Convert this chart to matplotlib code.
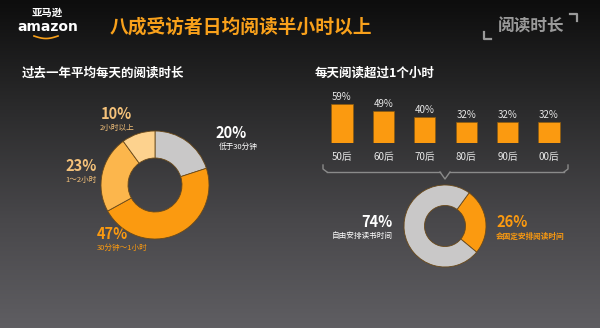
import numpy as np
import matplotlib
matplotlib.use("Agg")
import matplotlib.pyplot as plt
from matplotlib.colors import LinearSegmentedColormap

plt.rcParams['font.family'] = ['Noto Sans CJK SC', 'DejaVu Sans']

# data
left_labels = ['低于30分钟', '30分钟～1小时', '1～2小时', '2小时以上']
left_values = [20, 47, 23, 10]
bar_categories = ['50后', '60后', '70后', '80后', '90后', '00后']
bar_values = [59, 49, 40, 32, 32, 32]
right_labels = ['会固定安排阅读时间', '自由安排读书时间']
right_values = [26, 74]

ORANGE = '#fb9a10'
LIGHT = '#fcb64c'
PALE = '#fdd28e'
GRAY = '#c9c8c8'
TITLE = '#f9a11b'

W, H = 600, 328
fig = plt.figure(figsize=(6, 3.28), dpi=100)

# background, pixel coordinates
bg = fig.add_axes([0, 0, 1, 1])
bg.set_xlim(0, W)
bg.set_ylim(H, 0)
bg.axis('off')
cmap = LinearSegmentedColormap.from_list('bg', ['#0d0d0d', '#2b2b2c', '#48474a', '#5f5e62'])
grad = np.linspace(0, 1, 256).reshape(-1, 1)
bg.imshow(grad, cmap=cmap, extent=[0, W, H, 0], aspect='auto', zorder=0)

# logo
bg.text(47, 13, '亚马逊', color='white', fontsize=7.5, fontweight='bold', ha='center', va='center')
bg.text(48, 27, 'amazon', color='white', fontsize=10, fontweight='bold', ha='center', va='center',
        family=['DejaVu Sans'])
t = np.linspace(0, 1, 30)
bg.plot(34 + 24 * t, 36 + 2.5 * np.sin(np.pi * t), color=TITLE, lw=1.2, zorder=2)

# title
bg.text(110, 27, '八成受访者日均阅读半小时以上', color=TITLE, fontsize=13.5, fontweight='bold',
        ha='left', va='center')

# top right tag
bg.text(531, 27, '阅读时长', color='#9a9a9a', fontsize=12, fontweight='bold', ha='center', va='center')
bg.plot([570, 577, 577], [14, 14, 21], color='#9a9a9a', lw=1.6)
bg.plot([484, 484, 491], [32, 39, 39], color='#9a9a9a', lw=1.6)

# section titles
bg.text(22, 73, '过去一年平均每天的阅读时长', color='white', fontsize=9, fontweight='bold', ha='left', va='center')
bg.text(315, 73, '每天阅读超过1个小时', color='white', fontsize=9, fontweight='bold', ha='left', va='center')

# left donut
ax1 = fig.add_axes([101 / W, 1 - 239 / H, 108 / W, 108 / H])
wedges, _ = ax1.pie(left_values, colors=[GRAY, ORANGE, LIGHT, PALE], startangle=90, counterclock=False,
                    wedgeprops=dict(width=0.5, edgecolor='#6b4a1a', linewidth=0.6))
ax1.set_xlim(-1, 1)
ax1.set_ylim(-1, 1)
for w in wedges:
    w.set_clip_on(False)

left_pos = [(215, 133, 219, 147, 'white', 'left'),
            (97, 234, 97, 248, ORANGE, 'left'),
            (65, 166, 65, 180, '#f5c27a', 'left'),
            (101, 114, 100, 128, '#f5c27a', 'left')]
for (x1, y1, x2, y2, c, ha), v, lab in zip(left_pos, left_values, left_labels):
    bg.text(x1, y1, f'{v}%', color=c, fontsize=10.5, fontweight='bold', ha=ha, va='center')
    bg.text(x2, y2, lab, color=c, fontsize=5.5, ha=ha, va='center')

# bars
ax2 = fig.add_axes([321.3 / W, 1 - 143 / H, 248.4 / W, 66 / H])
x = np.arange(len(bar_values))
ax2.bar(x, bar_values, width=0.51, color=ORANGE, edgecolor='#8a5a10', linewidth=0.5)
ax2.set_xlim(-0.5, len(bar_values) - 0.5)
ax2.set_ylim(0, 100)
ax2.axis('off')
for xi, v in zip(x, bar_values):
    ax2.text(xi, v + 3, f'{v}%', color='#e8e8e8', fontsize=7, ha='center', va='bottom')
    ax2.text(xi, -21, bar_categories[xi], color='#e8e8e8', fontsize=7, ha='center', va='center')

# brace
bc = '#8a8a8a'
bg.plot([323, 323, 327], [165, 169, 172], color=bc, lw=1)
bg.plot([327, 440], [172, 172], color=bc, lw=1)
bg.plot([440, 445, 450], [172, 179, 172], color=bc, lw=1)
bg.plot([450, 564], [172, 172], color=bc, lw=1)
bg.plot([564, 568, 568], [172, 169, 165], color=bc, lw=1)

# right donut
ax3 = fig.add_axes([404 / W, 1 - 267 / H, 82 / W, 82 / H])
wedges, _ = ax3.pie(right_values, colors=[ORANGE, GRAY], startangle=54, counterclock=False,
                    wedgeprops=dict(width=0.5, edgecolor='#6b4a1a', linewidth=0.6))
ax3.set_xlim(-1, 1)
ax3.set_ylim(-1, 1)
for w in wedges:
    w.set_clip_on(False)

bg.text(496, 222, f'{right_values[0]}%', color=ORANGE, fontsize=10.5, fontweight='bold', ha='left', va='center')
bg.text(496, 236, right_labels[0], color=ORANGE, fontsize=5.5, fontweight='bold', ha='left', va='center')
bg.text(393, 222, f'{right_values[1]}%', color='white', fontsize=10.5, fontweight='bold', ha='right', va='center')
bg.text(393, 236, right_labels[1], color='white', fontsize=5.5, ha='right', va='center')

fig.savefig('out.png', dpi=100)
